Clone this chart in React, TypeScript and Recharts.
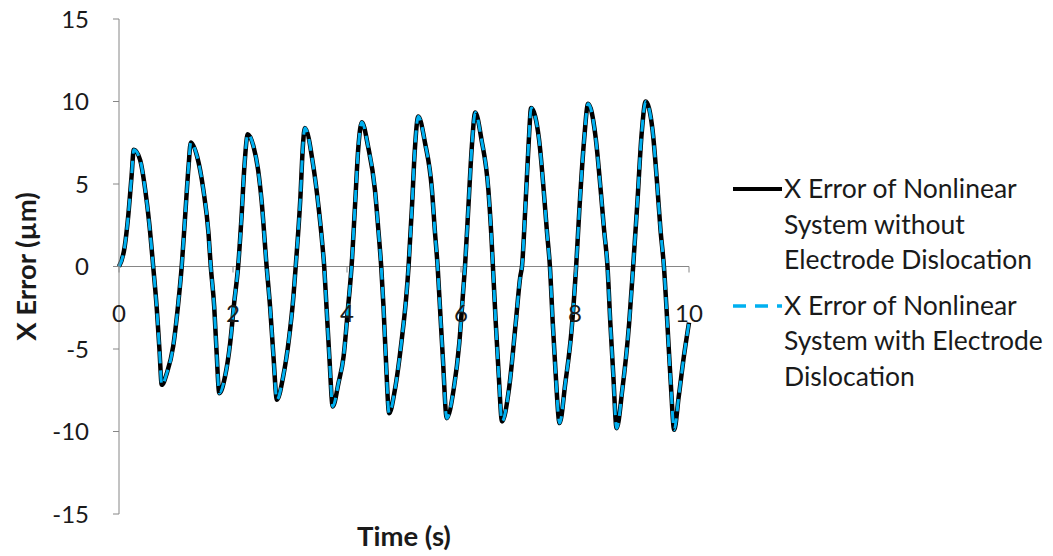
import { LineChart, Line, XAxis, YAxis, ReferenceLine, Legend, Label } from 'recharts';

// time (s) of each sampled point
const time = [
  0, 0.1, 0.16, 0.22, 0.26, 0.37, 0.46, 0.53, 0.6, 0.66, 0.71, 0.75,
  0.84, 0.95, 1.04, 1.1, 1.16, 1.22, 1.26, 1.37, 1.48, 1.57, 1.61, 1.67, 1.71, 1.76,
  1.86, 1.95, 2.02, 2.09, 2.15, 2.2, 2.26, 2.36, 2.44, 2.5, 2.59, 2.65, 2.71, 2.77,
  2.88, 2.98, 3.06, 3.1, 3.18, 3.23, 3.26, 3.41, 3.5, 3.56, 3.6, 3.64, 3.69, 3.75,
  3.85, 3.94, 4.02, 4.08, 4.14, 4.2, 4.26, 4.37, 4.49, 4.55, 4.6, 4.64, 4.68, 4.74,
  4.84, 4.96, 5.04, 5.08, 5.14, 5.19, 5.25, 5.37, 5.49, 5.54, 5.59, 5.63, 5.68, 5.75,
  5.87, 5.97, 6.04, 6.07, 6.13, 6.19, 6.25, 6.36, 6.48, 6.53, 6.56, 6.61, 6.66, 6.72,
  6.84, 6.96, 7.04, 7.07, 7.13, 7.19, 7.23, 7.37, 7.45, 7.51, 7.56, 7.61, 7.66, 7.73,
  7.83, 7.94, 8.02, 8.08, 8.16, 8.23, 8.36, 8.45, 8.51, 8.57, 8.62, 8.67, 8.73,
  8.83, 8.95, 9.02, 9.09, 9.17, 9.24, 9.36, 9.44, 9.5, 9.56, 9.62, 9.68, 9.74,
  9.82, 9.91, 10,
];

// X error (µm) without electrode dislocation
const errorWithout = [
  0, 1.2, 3.0, 5.45, 7.07, 6.46, 4.65, 2.63, 0, -2.42, -5.05, -7.17,
  -6.46, -4.85, -2.22, 0, 3.03, 6.06, 7.52, 6.67, 4.65, 2.02, 0, -2.42, -5.05, -7.68,
  -6.67, -4.65, -2.22, 0, 3.03, 6.06, 8.02, 7.27, 5.86, 4.04, 0, -2.42, -5.45, -8.08,
  -6.67, -4.44, -1.82, 0, 4.04, 7.5, 8.4, 6.06, 3.64, 1.62, 0, -2.42, -5.45, -8.48,
  -7.07, -5.45, -2.42, 0, 3.64, 7.27, 8.75, 7.27, 4.65, 2.22, 0, -2.42, -5.45, -8.89,
  -7.47, -4.44, -1.82, 0, 3.64, 7.07, 9.09, 7.47, 4.65, 2.22, 0, -2.42, -5.45, -9.19,
  -7.47, -4.65, -1.41, 0, 3.64, 7.27, 9.33, 7.68, 4.65, 2.02, 0, -3.43, -6.46, -9.39,
  -7.47, -3.43, -0.61, 0, 3.64, 7.68, 9.6, 7.68, 4.65, 2.02, 0, -3.43, -6.46, -9.49,
  -7.07, -3.84, 0, 3.64, 7.68, 9.86, 7.88, 4.65, 2.22, 0, -3.43, -6.46, -9.8,
  -7.47, -3.43, 0, 3.64, 8.08, 10.0, 8.28, 5.05, 2.22, 0, -3.43, -7.07, -9.9,
  -7.88, -5.45, -3.4,
];

// X error (µm) with electrode dislocation
const errorWith = [
  0, 1.2, 3.0, 5.45, 7.07, 6.46, 4.65, 2.63, 0, -2.42, -5.05, -7.17,
  -6.46, -4.85, -2.22, 0, 3.03, 6.06, 7.52, 6.67, 4.65, 2.02, 0, -2.42, -5.05, -7.68,
  -6.67, -4.65, -2.22, 0, 3.03, 6.06, 8.02, 7.27, 5.86, 4.04, 0, -2.42, -5.45, -8.08,
  -6.67, -4.44, -1.82, 0, 4.04, 7.5, 8.4, 6.06, 3.64, 1.62, 0, -2.42, -5.45, -8.48,
  -7.07, -5.45, -2.42, 0, 3.64, 7.27, 8.75, 7.27, 4.65, 2.22, 0, -2.42, -5.45, -8.89,
  -7.47, -4.44, -1.82, 0, 3.64, 7.07, 9.09, 7.47, 4.65, 2.22, 0, -2.42, -5.45, -9.19,
  -7.47, -4.65, -1.41, 0, 3.64, 7.27, 9.33, 7.68, 4.65, 2.02, 0, -3.43, -6.46, -9.39,
  -7.47, -3.43, -0.61, 0, 3.64, 7.68, 9.6, 7.68, 4.65, 2.02, 0, -3.43, -6.46, -9.49,
  -7.07, -3.84, 0, 3.64, 7.68, 9.86, 7.88, 4.65, 2.22, 0, -3.43, -6.46, -9.8,
  -7.47, -3.43, 0, 3.64, 8.08, 10.0, 8.28, 5.05, 2.22, 0, -3.43, -7.07, -9.9,
  -7.88, -5.45, -3.4,
];

const xTicks = [0, 2, 4, 6, 8, 10];
const yTicks = [-15, -10, -5, 0, 5, 10, 15];

const legendWithout = ['X Error of Nonlinear', 'System without', 'Electrode Dislocation'];
const legendWith = ['X Error of Nonlinear', 'System with Electrode', 'Dislocation'];

const data = time.map((t, i) => ({ t, without: errorWithout[i], with: errorWith[i] }));

const FONT = 'Lato, "Liberation Sans", sans-serif';
const AXIS = '#868686';
const TEXT = '#1a1a1a';
const BLUE = '#00B0F0';
const TICK_SIZE = 24;
const TITLE_SIZE = 27.5;
const LEGEND_SIZE = 26.5;

const WIDTH = 1053;
const HEIGHT = 556;
const MARGIN = { top: 19, right: 364, bottom: 12, left: 0 };
const X_AXIS_H = 30;
const PLOT_BOTTOM = HEIGHT - MARGIN.bottom - X_AXIS_H;
// y domain is symmetric, so the zero line sits halfway down the plot
const zeroY = MARGIN.top + (PLOT_BOTTOM - MARGIN.top) / 2;

const XTick = ({ x, payload }: any) => (
  <g>
    <line x1={x} x2={x} y1={zeroY} y2={zeroY + 6} stroke={AXIS} />
    <text x={x} y={zeroY + 46} textAnchor="middle" dominantBaseline="central"
      fontFamily={FONT} fontSize={TICK_SIZE} fill={TEXT}>
      {payload.value}
    </text>
  </g>
);

const LegendBlock = ({ lines, dashed, color, width }: { lines: string[]; dashed: boolean; color: string; width: number }) => (
  <div style={{ display: 'flex', alignItems: 'flex-start', marginBottom: 10 }}>
    <svg width={56} height={36} style={{ flex: 'none' }}>
      <line x1={5} x2={54} y1={18} y2={18} stroke={color} strokeWidth={width}
        strokeDasharray={dashed ? '13 9' : undefined} />
    </svg>
    <div>
      {lines.map((l) => (
        <div key={l} style={{ height: 35.5, lineHeight: '35.5px', whiteSpace: 'nowrap' }}>{l}</div>
      ))}
    </div>
  </div>
);

const renderLegend = () => (
  <div style={{ fontFamily: FONT, fontSize: LEGEND_SIZE, color: TEXT }}>
    <LegendBlock lines={legendWithout} dashed={false} color="#000" width={4} />
    <LegendBlock lines={legendWith} dashed color={BLUE} width={3.5} />
  </div>
);

export default function App() {
  return (
    <div style={{ position: 'absolute', left: 0, top: 0, background: '#fff' }}>
      <LineChart width={WIDTH} height={HEIGHT} data={data} margin={MARGIN}>
        <XAxis dataKey="t" type="number" domain={[0, 10]} ticks={xTicks} height={X_AXIS_H}
          axisLine={false} tickLine={false} tick={<XTick />} interval={0}>
          <Label content={({ viewBox }: any) => (
            <text x={viewBox.x + viewBox.width / 2} y={viewBox.y + 21} textAnchor="middle"
              dominantBaseline="central" fontFamily={FONT} fontSize={TITLE_SIZE} fontWeight="bold" fill={TEXT}>
              Time (s)
            </text>
          )} />
        </XAxis>
        <YAxis type="number" domain={[-15, 15]} ticks={yTicks} width={119} interval={0}
          stroke={AXIS} tickSize={6} tickMargin={24}
          tick={{ fontFamily: FONT, fontSize: TICK_SIZE, fill: TEXT }}>
          <Label content={({ viewBox }: any) => {
            const cx = viewBox.x + 25;
            const cy = viewBox.y + viewBox.height / 2;
            return (
              <text x={cx} y={cy} transform={`rotate(-90 ${cx} ${cy})`} textAnchor="middle"
                dominantBaseline="central" fontFamily={FONT} fontSize={TITLE_SIZE} fontWeight="bold" fill={TEXT}>
                X Error (µm)
              </text>
            );
          }} />
        </YAxis>
        <ReferenceLine y={0} stroke={AXIS} />
        <Legend layout="vertical" align="center" verticalAlign="middle" content={renderLegend}
          wrapperStyle={{ left: 728, top: 171, width: 325 }} />
        <Line type="monotone" dataKey="without" stroke="#000" strokeWidth={4.5} dot={false}
          isAnimationActive={false} />
        <Line type="monotone" dataKey="with" stroke={BLUE} strokeWidth={3} strokeDasharray="12 7"
          dot={false} isAnimationActive={false} />
      </LineChart>
    </div>
  );
}
